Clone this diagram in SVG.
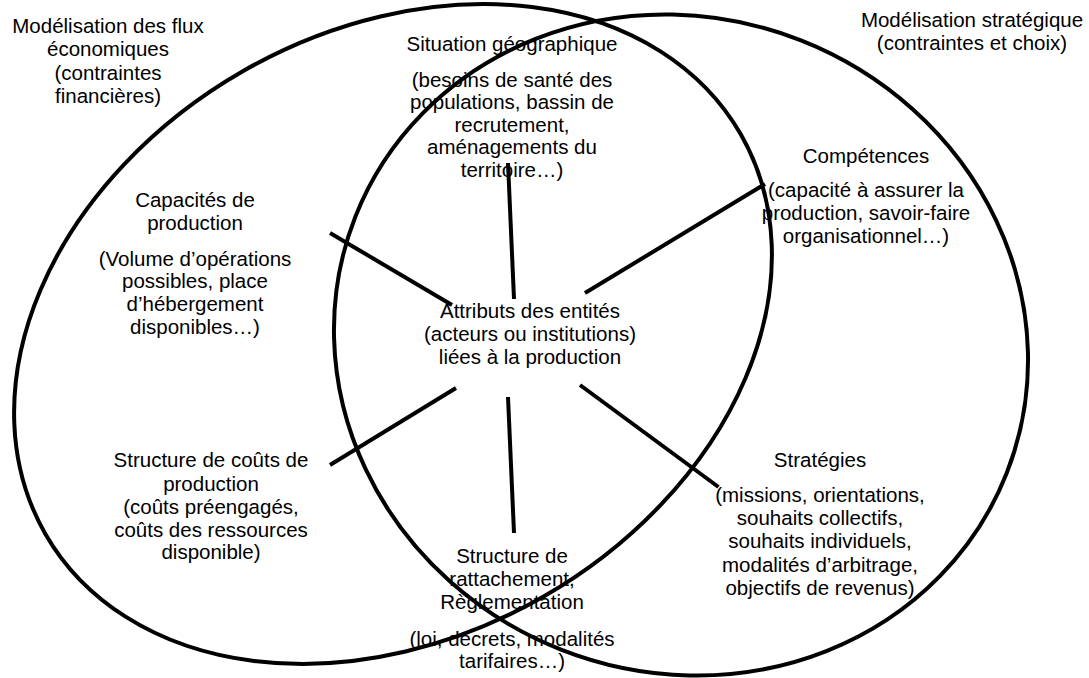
<svg xmlns="http://www.w3.org/2000/svg" width="1089" height="678" viewBox="0 0 1089 678">
<style>
  text { font-family: "Liberation Sans", Arial, Helvetica, sans-serif; font-size: 20.5px; fill: #000; text-anchor: middle; }
  .shape { fill: none; stroke: #000; stroke-width: 4; }
  .conn { stroke: #000; stroke-width: 4; stroke-linecap: butt; }
</style>
<rect width="1089" height="678" fill="#fff"/>

<g id="node-flux-title">
  <text x="108" y="33">Modélisation des flux</text>
  <text x="108" y="56.3">économiques</text>
  <text x="108" y="79.6">(contraintes</text>
  <text x="108" y="102.7">financières)</text>
</g>
<g id="node-strategique-title">
  <text x="972" y="26.7">Modélisation stratégique</text>
  <text x="972" y="50">(contraintes et choix)</text>
</g>
<g id="node-situation">
  <text x="512" y="50.5">Situation géographique</text>
  <text x="512" y="86.7">(besoins de santé des</text>
  <text x="512" y="109.2">populations, bassin de</text>
  <text x="512" y="131.7">recrutement,</text>
  <text x="512" y="154.2">aménagements du</text>
  <text x="512" y="176.7">territoire…)</text>
</g>
<g id="node-capacites">
  <text x="195" y="207.3">Capacités de</text>
  <text x="195" y="230">production</text>
  <text x="195" y="265.7">(Volume d’opérations</text>
  <text x="195" y="288.4">possibles, place</text>
  <text x="195" y="311.1">d’hébergement</text>
  <text x="195" y="333.8">disponibles…)</text>
</g>
<g id="node-attributs">
  <text x="530" y="318.3">Attributs des entités</text>
  <text x="530" y="341.2">(acteurs ou institutions)</text>
  <text x="530" y="364">liées à la production</text>
</g>
<g id="node-competences">
  <text x="866" y="162.7">Compétences</text>
  <text x="866" y="196.7">(capacité à assurer la</text>
  <text x="866" y="220">production, savoir-faire</text>
  <text x="866" y="243.3">organisationnel…)</text>
</g>
<g id="node-couts">
  <text x="211" y="467.3">Structure de coûts de</text>
  <text x="211" y="490.6">production</text>
  <text x="211" y="513.9">(coûts préengagés,</text>
  <text x="211" y="536.7">coûts des ressources</text>
  <text x="211" y="559.3">disponible)</text>
</g>
<g id="node-strategies">
  <text x="820" y="466.7">Stratégies</text>
  <text x="820" y="502.3">(missions, orientations,</text>
  <text x="820" y="525.3">souhaits collectifs,</text>
  <text x="820" y="548.3">souhaits individuels,</text>
  <text x="820" y="571.5">modalités d’arbitrage,</text>
  <text x="820" y="594.5">objectifs de revenus)</text>
</g>
<g id="node-rattachement">
  <text x="512" y="562.7">Structure de</text>
  <text x="512" y="586">rattachement,</text>
  <text x="512" y="609">Règlementation</text>
  <text x="512" y="646">(loi, decrets, modalités</text>
  <text x="512" y="668">tarifaires…)</text>
</g>

<g id="region-flux">
  <ellipse class="shape" cx="393" cy="334" rx="401" ry="302.7" transform="rotate(-29.94 393 334)"/>
</g>
<g id="region-strategique">
  <ellipse class="shape" cx="681" cy="345" rx="350" ry="327.4" transform="rotate(21.5 681 345)"/>
</g>

<g id="connectors">
  <line class="conn" x1="508" y1="163" x2="514" y2="299"/>
  <line class="conn" x1="330" y1="233" x2="452" y2="305"/>
  <line class="conn" x1="765" y1="184" x2="585" y2="293"/>
  <line class="conn" x1="456" y1="388" x2="330" y2="465"/>
  <line class="conn" x1="508" y1="397" x2="514" y2="533"/>
  <line class="conn" x1="580" y1="385" x2="718.5" y2="487"/>
</g>
</svg>
